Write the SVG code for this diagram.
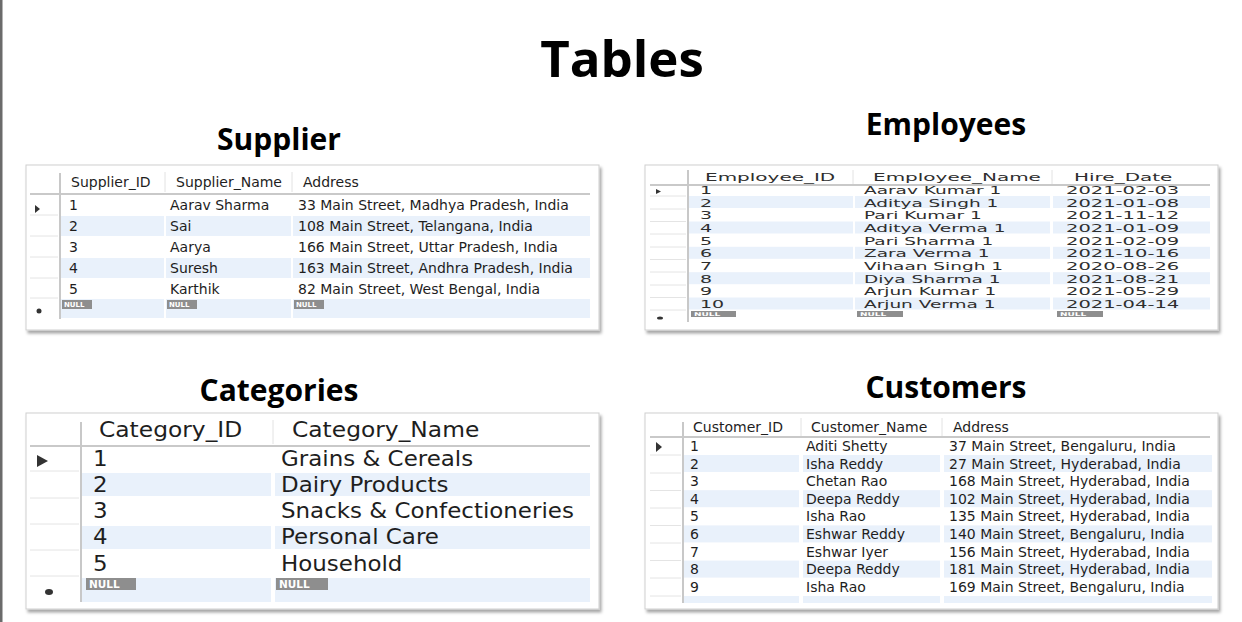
<svg xmlns="http://www.w3.org/2000/svg" width="1242" height="622" viewBox="0 0 1242 622">
<defs>
<filter id="sh" x="-5%" y="-5%" width="110%" height="115%">
<feDropShadow dx="2" dy="3" stdDeviation="1.6" flood-color="#000" flood-opacity="0.35"/>
</filter>
</defs>
<style>
.ttl{font-family:"Open Sans","Liberation Sans",sans-serif;font-weight:700;fill:#000;text-anchor:middle}
.box{fill:#fff;stroke:#cfcfcf;stroke-width:1}
.str{fill:#e9f1fb}
.hl{stroke:#c9c9c9;stroke-width:2}
.vl{stroke:#c8c8c8;stroke-width:2}
.hs{stroke:#e2e2e2;stroke-width:1}
.rs{stroke:#e4e4e4;stroke-width:1}
.t{font-family:"DejaVu Sans","Liberation Sans",sans-serif;fill:#1e1e1e}
.s14{font-size:14px}
.s20{font-size:20.5px}
.s10{font-size:10px;fill:#2e2e2e}
.nb{fill:#8e8e8e}
.nt{font-family:"DejaVu Sans",sans-serif;font-weight:700;fill:#fff}
.ind{fill:#333}
</style>
<rect x="0" y="0" width="2.5" height="622" fill="#6b6b6b"/>
<text class="ttl" x="622" y="77" font-size="51">Tables</text>

<g id="supplier">
<text class="ttl" x="279" y="150" font-size="30">Supplier</text>
<rect class="box" x="26" y="165" width="573" height="165" filter="url(#sh)"/>
<g>
<rect class="str" x="61" y="216" width="103" height="20"/><rect class="str" x="166" y="216" width="125" height="20"/><rect class="str" x="293" y="216" width="297" height="20"/>
<rect class="str" x="61" y="258" width="103" height="20"/><rect class="str" x="166" y="258" width="125" height="20"/><rect class="str" x="293" y="258" width="297" height="20"/>
<rect class="str" x="61" y="299" width="103" height="19"/><rect class="str" x="166" y="299" width="125" height="19"/><rect class="str" x="293" y="299" width="297" height="19"/>
</g>
<line class="hl" x1="30" y1="194" x2="590" y2="194"/>
<line class="vl" x1="60" y1="173" x2="60" y2="319"/>
<line class="hs" x1="165" y1="172" x2="165" y2="192"/><line class="hs" x1="292" y1="172" x2="292" y2="192"/>
<g class="rs"><line x1="30" y1="215" x2="58" y2="215"/><line x1="30" y1="236" x2="58" y2="236"/><line x1="30" y1="257" x2="58" y2="257"/><line x1="30" y1="278" x2="58" y2="278"/><line x1="30" y1="298" x2="58" y2="298"/></g>
<polygon class="ind" points="35,205 40,209 35,213"/>
<circle class="ind" cx="39" cy="311" r="2.5"/>
<g class="t s14">
<text x="71" y="187">Supplier_ID</text><text x="176" y="187">Supplier_Name</text><text x="303" y="187">Address</text>
<text x="69" y="210">1</text><text x="170" y="210">Aarav Sharma</text><text x="298" y="210">33 Main Street, Madhya Pradesh, India</text>
<text x="69" y="231">2</text><text x="170" y="231">Sai</text><text x="298" y="231">108 Main Street, Telangana, India</text>
<text x="69" y="252">3</text><text x="170" y="252">Aarya</text><text x="298" y="252">166 Main Street, Uttar Pradesh, India</text>
<text x="69" y="273">4</text><text x="170" y="273">Suresh</text><text x="298" y="273">163 Main Street, Andhra Pradesh, India</text>
<text x="69" y="294">5</text><text x="170" y="294">Karthik</text><text x="298" y="294">82 Main Street, West Bengal, India</text>
</g>
<rect class="nb" x="62" y="300" width="30" height="9"/><rect class="nb" x="167" y="300" width="30" height="9"/><rect class="nb" x="294" y="300" width="30" height="9"/>
<g class="nt" font-size="7"><text x="64" y="307">NULL</text><text x="169" y="307">NULL</text><text x="296" y="307">NULL</text></g>
</g>

<g id="employees">
<text class="ttl" x="946" y="135" font-size="30">Employees</text>
<rect class="box" x="645" y="165" width="573" height="165" filter="url(#sh)"/>
<g>
<rect class="str" x="689" y="196" width="164" height="12"/><rect class="str" x="855" y="196" width="195" height="12"/><rect class="str" x="1053" y="196" width="157" height="12"/>
<rect class="str" x="689" y="221.5" width="164" height="12"/><rect class="str" x="855" y="221.5" width="195" height="12"/><rect class="str" x="1053" y="221.5" width="157" height="12"/>
<rect class="str" x="689" y="246.8" width="164" height="12"/><rect class="str" x="855" y="246.8" width="195" height="12"/><rect class="str" x="1053" y="246.8" width="157" height="12"/>
<rect class="str" x="689" y="272.2" width="164" height="12"/><rect class="str" x="855" y="272.2" width="195" height="12"/><rect class="str" x="1053" y="272.2" width="157" height="12"/>
<rect class="str" x="689" y="297.5" width="164" height="12"/><rect class="str" x="855" y="297.5" width="195" height="12"/><rect class="str" x="1053" y="297.5" width="157" height="12"/>
</g>
<line class="hl" x1="650" y1="185" x2="1210" y2="185"/>
<line class="vl" x1="688" y1="170" x2="688" y2="322"/>
<line class="hs" x1="853" y1="170" x2="853" y2="184"/><line class="hs" x1="1052" y1="170" x2="1052" y2="184"/>
<g class="rs"><line x1="650" y1="196" x2="686" y2="196"/><line x1="650" y1="209" x2="686" y2="209"/><line x1="650" y1="221.5" x2="686" y2="221.5"/><line x1="650" y1="234" x2="686" y2="234"/><line x1="650" y1="247" x2="686" y2="247"/><line x1="650" y1="259.5" x2="686" y2="259.5"/><line x1="650" y1="272" x2="686" y2="272"/><line x1="650" y1="285" x2="686" y2="285"/><line x1="650" y1="297.5" x2="686" y2="297.5"/><line x1="650" y1="310" x2="686" y2="310"/></g>
<polygon class="ind" points="656,189 661,191.5 656,194"/>
<ellipse class="ind" cx="660" cy="318" rx="3" ry="1.6"/>
<g class="t s10">
<g transform="translate(705 0) scale(2 1)"><text x="0" y="181">Employee_ID</text></g>
<g transform="translate(873 0) scale(2 1)"><text x="0" y="181">Employee_Name</text></g>
<g transform="translate(1074 0) scale(2 1)"><text x="0" y="181">Hire_Date</text></g>
<g transform="translate(700 0) scale(1.9 1)">
<text x="0" y="194">1</text><text x="0" y="206.7">2</text><text x="0" y="219.3">3</text><text x="0" y="232">4</text><text x="0" y="244.7">5</text><text x="0" y="257.3">6</text><text x="0" y="270">7</text><text x="0" y="282.7">8</text><text x="0" y="295.3">9</text><text x="0" y="308">10</text>
</g>
<g transform="translate(864 0) scale(1.85 1)">
<text x="0" y="194">Aarav Kumar 1</text><text x="0" y="206.7">Aditya Singh 1</text><text x="0" y="219.3">Pari Kumar 1</text><text x="0" y="232">Aditya Verma 1</text><text x="0" y="244.7">Pari Sharma 1</text><text x="0" y="257.3">Zara Verma 1</text><text x="0" y="270">Vihaan Singh 1</text><text x="0" y="282.7">Diya Sharma 1</text><text x="0" y="295.3">Arjun Kumar 1</text><text x="0" y="308">Arjun Verma 1</text>
</g>
<g transform="translate(1066 0) scale(1.95 1)">
<text x="0" y="194">2021-02-03</text><text x="0" y="206.7">2021-01-08</text><text x="0" y="219.3">2021-11-12</text><text x="0" y="232">2021-01-09</text><text x="0" y="244.7">2021-02-09</text><text x="0" y="257.3">2021-10-16</text><text x="0" y="270">2020-08-26</text><text x="0" y="282.7">2021-08-21</text><text x="0" y="295.3">2021-05-29</text><text x="0" y="308">2021-04-14</text>
</g>
</g>
<rect class="nb" x="691" y="311" width="45" height="6"/><rect class="nb" x="857" y="311" width="46" height="6"/><rect class="nb" x="1057" y="311" width="46" height="6"/>
<g class="nt" font-size="5"><g transform="translate(694 0) scale(1.8 1)"><text x="0" y="316">NULL</text></g><g transform="translate(860 0) scale(1.8 1)"><text x="0" y="316">NULL</text></g><g transform="translate(1060 0) scale(1.8 1)"><text x="0" y="316">NULL</text></g></g>
</g>

<g id="categories">
<text class="ttl" x="279" y="401" font-size="30">Categories</text>
<rect class="box" x="26" y="413" width="573" height="196" filter="url(#sh)"/>
<g>
<rect class="str" x="82" y="473" width="189" height="23"/><rect class="str" x="275" y="473" width="315" height="23"/>
<rect class="str" x="82" y="526" width="189" height="23"/><rect class="str" x="275" y="526" width="315" height="23"/>
<rect class="str" x="82" y="578" width="189" height="24"/><rect class="str" x="275" y="578" width="315" height="24"/>
</g>
<line class="hl" x1="30" y1="446" x2="590" y2="446"/>
<line class="vl" x1="81" y1="422" x2="81" y2="602"/>
<line class="hs" x1="273" y1="420" x2="273" y2="444"/>
<g class="rs"><line x1="30" y1="471" x2="79" y2="471"/><line x1="30" y1="498" x2="79" y2="498"/><line x1="30" y1="524" x2="79" y2="524"/><line x1="30" y1="550" x2="79" y2="550"/><line x1="30" y1="576" x2="79" y2="576"/></g>
<polygon class="ind" points="37,455 48,461 37,467"/>
<ellipse class="ind" cx="49" cy="592" rx="4" ry="3"/>
<g class="t s20">
<g transform="translate(99 0) scale(1.14 1)"><text x="0" y="437">Category_ID</text></g>
<g transform="translate(292 0) scale(1.14 1)"><text x="0" y="437">Category_Name</text></g>
<g transform="translate(93 0) scale(1.12 1)">
<text x="0" y="466">1</text><text x="0" y="492">2</text><text x="0" y="518">3</text><text x="0" y="544">4</text><text x="0" y="571">5</text>
</g>
<g transform="translate(281 0) scale(1.12 1)">
<text x="0" y="466">Grains &amp; Cereals</text><text x="0" y="492">Dairy Products</text><text x="0" y="518">Snacks &amp; Confectioneries</text><text x="0" y="544">Personal Care</text><text x="0" y="571">Household</text>
</g>
</g>
<rect class="nb" x="86" y="578" width="50" height="12"/><rect class="nb" x="276" y="578" width="52" height="12"/>
<g class="nt" font-size="10.5"><text x="89" y="588">NULL</text><text x="279" y="588">NULL</text></g>
</g>

<g id="customers">
<text class="ttl" x="946" y="398" font-size="30">Customers</text>
<rect class="box" x="645" y="413" width="573" height="196" filter="url(#sh)"/>
<g>
<rect class="str" x="684" y="455" width="115" height="17"/><rect class="str" x="803" y="455" width="137" height="17"/><rect class="str" x="944" y="455" width="268" height="17"/>
<rect class="str" x="684" y="490.2" width="115" height="17"/><rect class="str" x="803" y="490.2" width="137" height="17"/><rect class="str" x="944" y="490.2" width="268" height="17"/>
<rect class="str" x="684" y="525.4" width="115" height="17"/><rect class="str" x="803" y="525.4" width="137" height="17"/><rect class="str" x="944" y="525.4" width="268" height="17"/>
<rect class="str" x="684" y="560.6" width="115" height="17"/><rect class="str" x="803" y="560.6" width="137" height="17"/><rect class="str" x="944" y="560.6" width="268" height="17"/>
<rect class="str" x="684" y="596" width="115" height="7"/><rect class="str" x="803" y="596" width="137" height="7"/><rect class="str" x="944" y="596" width="268" height="7"/>
</g>
<line class="hl" x1="650" y1="437" x2="1210" y2="437"/>
<line class="vl" x1="683" y1="422" x2="683" y2="603"/>
<line class="hs" x1="801" y1="418" x2="801" y2="436"/><line class="hs" x1="942" y1="418" x2="942" y2="436"/>
<g class="rs"><line x1="650" y1="455" x2="681" y2="455"/><line x1="650" y1="473" x2="681" y2="473"/><line x1="650" y1="490.5" x2="681" y2="490.5"/><line x1="650" y1="508" x2="681" y2="508"/><line x1="650" y1="525.5" x2="681" y2="525.5"/><line x1="650" y1="543" x2="681" y2="543"/><line x1="650" y1="560.5" x2="681" y2="560.5"/><line x1="650" y1="578" x2="681" y2="578"/><line x1="650" y1="596" x2="681" y2="596"/></g>
<polygon class="ind" points="656,442 662,447 656,452"/>
<g class="t s14">
<text x="693" y="432">Customer_ID</text><text x="811" y="432">Customer_Name</text><text x="953" y="432">Address</text>
<text x="690" y="451">1</text><text x="806" y="451">Aditi Shetty</text><text x="949" y="451">37 Main Street, Bengaluru, India</text>
<text x="690" y="468.6">2</text><text x="806" y="468.6">Isha Reddy</text><text x="949" y="468.6">27 Main Street, Hyderabad, India</text>
<text x="690" y="486.2">3</text><text x="806" y="486.2">Chetan Rao</text><text x="949" y="486.2">168 Main Street, Hyderabad, India</text>
<text x="690" y="503.8">4</text><text x="806" y="503.8">Deepa Reddy</text><text x="949" y="503.8">102 Main Street, Hyderabad, India</text>
<text x="690" y="521.4">5</text><text x="806" y="521.4">Isha Rao</text><text x="949" y="521.4">135 Main Street, Hyderabad, India</text>
<text x="690" y="539">6</text><text x="806" y="539">Eshwar Reddy</text><text x="949" y="539">140 Main Street, Bengaluru, India</text>
<text x="690" y="556.6">7</text><text x="806" y="556.6">Eshwar Iyer</text><text x="949" y="556.6">156 Main Street, Hyderabad, India</text>
<text x="690" y="574.2">8</text><text x="806" y="574.2">Deepa Reddy</text><text x="949" y="574.2">181 Main Street, Hyderabad, India</text>
<text x="690" y="591.8">9</text><text x="806" y="591.8">Isha Rao</text><text x="949" y="591.8">169 Main Street, Bengaluru, India</text>
</g>
</g>
<g id="connectors"/>
</svg>
